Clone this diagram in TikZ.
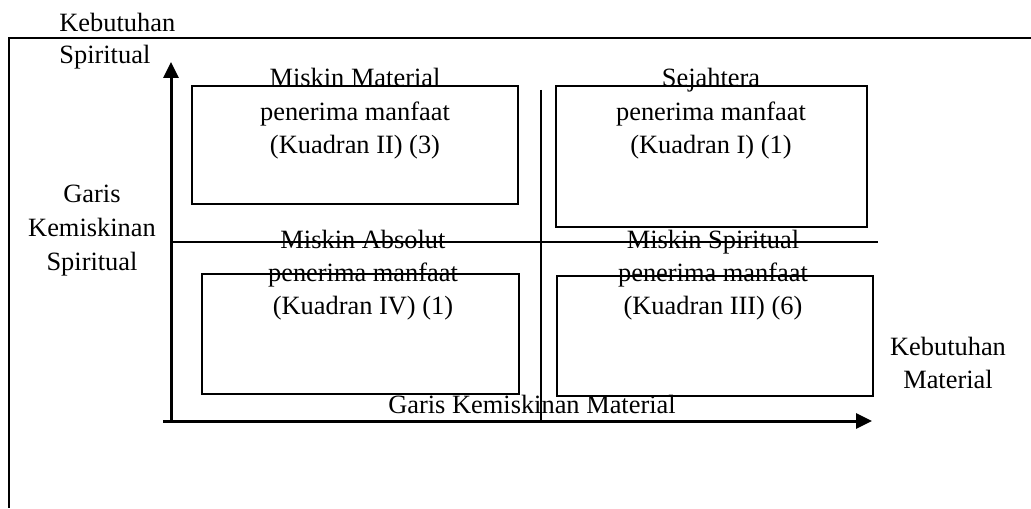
\documentclass[tikz,border=0pt]{standalone}
\usepackage{fontspec}
\setmainfont{Liberation Serif}
\usetikzlibrary{arrows.meta}
\begin{document}
\begin{tikzpicture}[x=0.5pt,y=-0.5pt,
  lbl/.style={inner sep=0pt,anchor=base,align=center,font=\fontsize{13.2pt}{16.5pt}\selectfont},
  frameline/.style={line width=0.75pt},
  boxline/.style={line width=1pt},
  axis/.style={line width=1.5pt,-{Triangle[length=8pt,width=7.5pt]}},
  midline/.style={line width=0.75pt}]
\useasboundingbox (0,0) rectangle (1031,508);
% outer frame (top and left only)
\draw[frameline] (1031,38) -- (9,38) -- (9,508);
% quadrant boxes
\draw[boxline] (192,86) rectangle (518,204);
\draw[boxline] (556,86) rectangle (867,227);
\draw[boxline] (202,274) rectangle (519,394);
\draw[boxline] (557,276) rectangle (873,396);
% dividing lines
\coordinate (hl) at (171,242);
\coordinate (hr) at (878,242);
\coordinate (vt) at (541,90);
\coordinate (vb) at (541,420);
\draw[midline] (hl) -- (hr);
\draw[midline] (vt) -- (vb);
% axes
\coordinate (yo) at (171,420);
\coordinate (yt) at (171,62);
\coordinate (xo) at (163,421);
\coordinate (xt) at (872,421);
\draw[axis] (yo) -- (yt);
\draw[axis] (xo) -- (xt);
% labels (anchor = baseline of the last line)
\node[lbl,anchor=base west,align=left] (ks) at (59,64) {Kebutuhan\\Spiritual};
\node[lbl,font=\fontsize{13.2pt}{17pt}\selectfont] (gks) at (92,270) {Garis\\Kemiskinan\\Spiritual};
\node[lbl] (q2) at (355,153) {Miskin Material\\penerima manfaat\\(Kuadran II) (3)};
\node[lbl] (q1) at (711,153) {Sejahtera\\penerima manfaat\\(Kuadran I) (1)};
\node[lbl] (q4) at (363,314) {Miskin Absolut\\penerima manfaat\\(Kuadran IV) (1)};
\node[lbl] (q3) at (713,314) {Miskin Spiritual\\penerima manfaat\\(Kuadran III) (6)};
\node[lbl] (km) at (948,388) {Kebutuhan\\Material};
\node[lbl] (gkm) at (532,413) {Garis Kemiskinan Material};
\end{tikzpicture}
\end{document}
